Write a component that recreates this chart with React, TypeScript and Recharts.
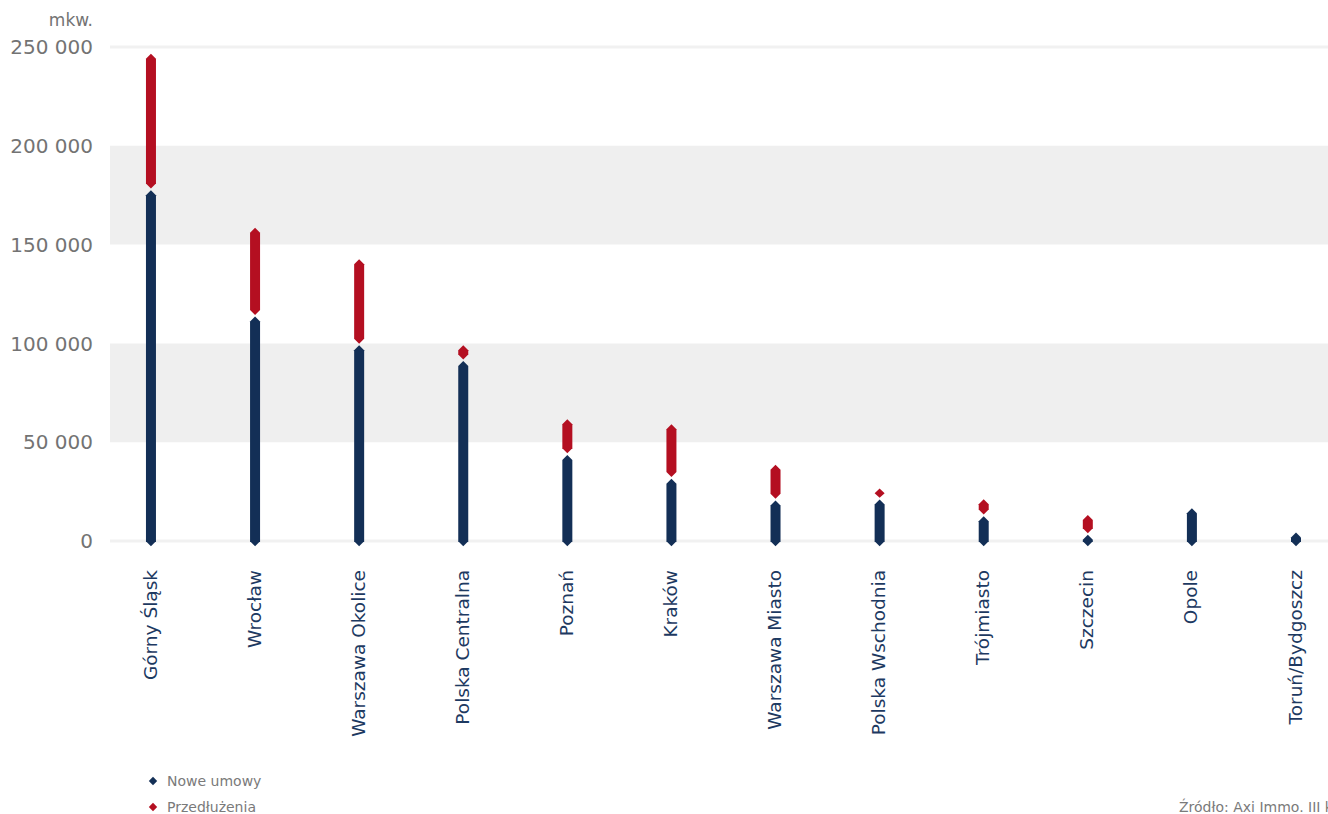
import React from 'react';
import { BarChart, Bar, XAxis, YAxis, ReferenceArea, CartesianGrid } from 'recharts';

const categories = [
  'Górny Śląsk', 'Wrocław', 'Warszawa Okolice', 'Polska Centralna', 'Poznań', 'Kraków',
  'Warszawa Miasto', 'Polska Wschodnia', 'Trójmiasto', 'Szczecin', 'Opole', 'Toruń/Bydgoszcz',
];
const noweUmowy = [181000, 117000, 102500, 94500, 47000, 35000, 24000, 24500, 16000, 6600, 20000, 7700];
const przedluzenia = [69000, 45000, 43500, 8000, 18000, 27500, 18000, 5500, 8600, 10000, 0, 0];
const yTicks = [0, 50000, 100000, 150000, 200000, 250000];
const bands: [number, number][] = [[50000, 100000], [150000, 200000]];
const edgeLines = [0, 250000];

const NAVY = '#132f56';
const RED = '#b40f21';
const FONT = '"DejaVu Sans", "Open Sans", sans-serif';
const GRAY = '#737373';

const data = categories.map((name, i) => ({
  idx: i,
  name,
  nowe: noweUmowy[i],
  przed: przedluzenia[i],
}));

const fmt = (n: number) => String(n).replace(/\B(?=(\d{3})+(?!\d))/g, ' ');

const PointedBar = (props: any) => {
  const { x, y, width, height, fill } = props;
  if (height == null || height < 0.5) return null;
  const shift = 6;
  const top = y + shift + 0.8;
  const bot = y + height + shift - 0.8;
  const tip = Math.min(5, (bot - top) / 2);
  const cx = x + width / 2;
  const pts = [
    [cx, top],
    [x + width, top + tip],
    [x + width, bot - tip],
    [cx, bot],
    [x, bot - tip],
    [x, top + tip],
  ]
    .map((p) => p.join(','))
    .join(' ');
  return <polygon points={pts} fill={fill} />;
};

const XTick = (props: any) => {
  const { x, y, payload } = props;
  const label = categories[payload.value];
  if (label == null) return null;
  return (
    <g transform={`translate(${x + 5.5},${y + 29}) rotate(-90)`}>
      <text x={0} y={0} textAnchor="end" fill="#1d3961" fontSize={18.5} fontFamily={FONT}>
        {label}
      </text>
    </g>
  );
};

const Diamond = ({ color }: { color: string }) => (
  <svg width={10} height={10} style={{ position: 'absolute', left: -19, top: 1 }}>
    <polygon points="5,0.8 9.2,5 5,9.2 0.8,5" fill={color} />
  </svg>
);

const smallText: React.CSSProperties = {
  position: 'absolute',
  lineHeight: '12px',
  fontSize: 14,
  color: '#7a7a7a',
  whiteSpace: 'nowrap',
};

export default function App() {
  return (
    <div
      style={{
        position: 'absolute',
        left: 0,
        top: 0,
        width: 1328,
        height: 814,
        overflow: 'hidden',
        background: '#fff',
        fontFamily: FONT,
      }}
    >
      <div
        style={{
          position: 'absolute',
          left: 0,
          width: 93,
          top: 10,
          lineHeight: '20px',
          textAlign: 'right',
          fontSize: 17,
          color: GRAY,
        }}
      >
        mkw.
      </div>
      <BarChart
        width={1328}
        height={814}
        data={data}
        margin={{ top: 47, right: 0, bottom: 0, left: 0 }}
        barSize={10}
      >
        <CartesianGrid
          vertical={false}
          horizontalValues={edgeLines}
          stroke="#f1f1f1"
          strokeWidth={3}
        />
        {bands.map(([a, b], i) => (
          <ReferenceArea key={i} y1={a} y2={b} fill="#efefef" fillOpacity={1} stroke="none" />
        ))}
        <XAxis
          dataKey="idx"
          type="number"
          domain={[-0.394, 11.307]}
          allowDataOverflow
          ticks={categories.map((_, i) => i)}
          interval={0}
          tick={<XTick />}
          tickSize={0}
          tickMargin={0}
          axisLine={false}
          tickLine={false}
          height={273}
        />
        <YAxis
          type="number"
          domain={[0, 250000]}
          ticks={yTicks}
          tickFormatter={fmt}
          width={110}
          tickSize={0}
          tickMargin={17}
          axisLine={false}
          tickLine={false}
          tick={{ fill: GRAY, fontSize: 20, fontFamily: FONT }}
        />
        <Bar dataKey="nowe" stackId="a" fill={NAVY} shape={<PointedBar />} isAnimationActive={false} />
        <Bar dataKey="przed" stackId="a" fill={RED} shape={<PointedBar />} isAnimationActive={false} />
      </BarChart>
      <div style={{ ...smallText, left: 167, top: 775 }}>
        <Diamond color={NAVY} />
        Nowe umowy
      </div>
      <div style={{ ...smallText, left: 167, top: 801 }}>
        <Diamond color={RED} />
        Przedłużenia
      </div>
      <div style={{ ...smallText, left: 1179, top: 801 }}>
        Źródło: Axi Immo. III kw. 2023
      </div>
    </div>
  );
}
